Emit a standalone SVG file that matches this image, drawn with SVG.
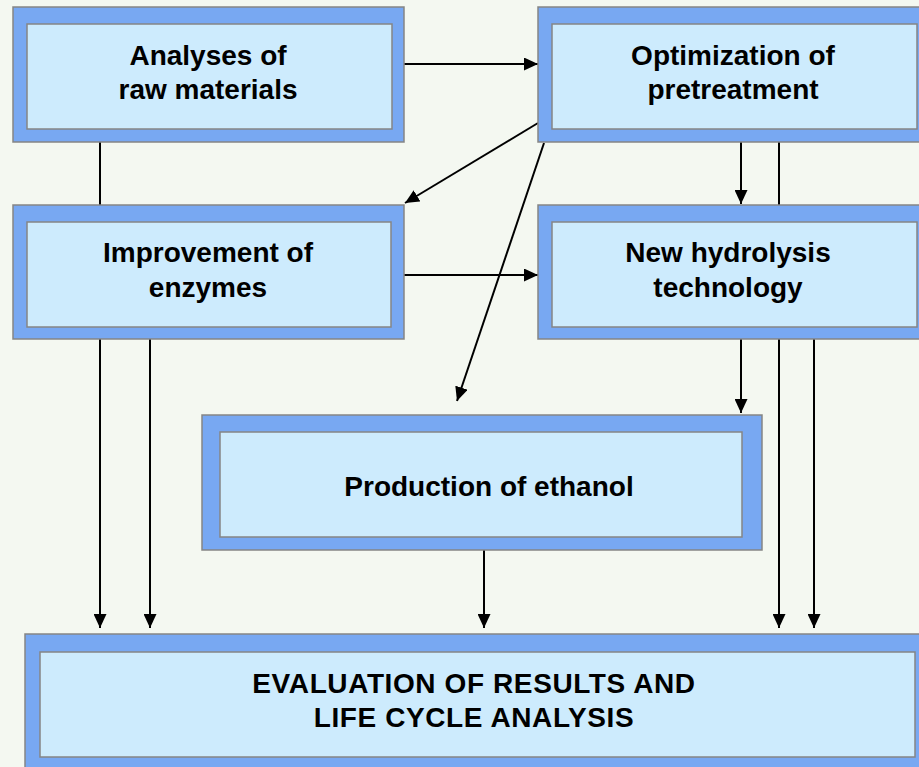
<svg xmlns="http://www.w3.org/2000/svg" width="919" height="767" viewBox="0 0 919 767">
<defs>
<marker id="ah" markerUnits="userSpaceOnUse" markerWidth="14" markerHeight="13" refX="14" refY="6.5" orient="auto" viewBox="0 0 14 13">
<path d="M0,0 L14,6.5 L0,13 z" fill="#000"/>
</marker>
<style>
.outer{fill:#78a8f2;stroke:#858585;stroke-width:1.5}
.inner{fill:#cdebfd;stroke:#858585;stroke-width:1.5}
.t{font-family:"Liberation Sans",Arial,sans-serif;font-weight:bold;font-size:28px;fill:#000;text-anchor:middle}
.w{letter-spacing:0.6px}
.c{stroke:#000;stroke-width:2;fill:none}
.a{marker-end:url(#ah)}
</style>
</defs>
<rect x="0" y="0" width="919" height="767" fill="#f4f8f1"/>
<g id="connectors">
<line class="c a" x1="404" y1="64" x2="538" y2="64"/>
<line class="c a" x1="100" y1="142" x2="100" y2="628"/>
<line class="c a" x1="538" y1="123" x2="405" y2="203"/>
<line class="c a" x1="544" y1="143" x2="457" y2="401"/>
<line class="c a" x1="741" y1="142" x2="741" y2="204"/>
<line class="c a" x1="779" y1="142" x2="779" y2="628"/>
<line class="c a" x1="404" y1="275" x2="538" y2="275"/>
<line class="c a" x1="150" y1="339" x2="150" y2="628"/>
<line class="c a" x1="741" y1="339" x2="741" y2="413"/>
<line class="c a" x1="814" y1="339" x2="814" y2="628"/>
<line class="c a" x1="484" y1="550" x2="484" y2="628"/>
</g>
<g id="analyses">
<rect class="outer" x="13" y="7" width="391" height="135"/>
<rect class="inner" x="27" y="24" width="365" height="105"/>
<text class="t" x="208" y="65">Analyses of</text>
<text class="t" x="208" y="99">raw materials</text>
</g>
<g id="optimization">
<rect class="outer" x="538" y="7" width="400" height="135"/>
<rect class="inner" x="552" y="24" width="365" height="105"/>
<text class="t" x="733" y="65">Optimization of</text>
<text class="t" x="733" y="99">pretreatment</text>
</g>
<g id="improvement">
<rect class="outer" x="13" y="205" width="391" height="134"/>
<rect class="inner" x="27" y="222" width="364" height="105"/>
<text class="t" x="208" y="262">Improvement of</text>
<text class="t" x="208" y="297">enzymes</text>
</g>
<g id="hydrolysis">
<rect class="outer" x="538" y="205" width="400" height="134"/>
<rect class="inner" x="552" y="222" width="365" height="105"/>
<text class="t" x="728" y="262">New hydrolysis</text>
<text class="t" x="728" y="297">technology</text>
</g>
<g id="production">
<rect class="outer" x="202" y="415" width="560" height="135"/>
<rect class="inner" x="220" y="432" width="522" height="105"/>
<text class="t" x="489" y="496">Production of ethanol</text>
</g>
<g id="evaluation">
<rect class="outer" x="25" y="634" width="920" height="150"/>
<rect class="inner" x="40" y="652" width="875" height="105"/>
<text class="t w" x="474" y="693">EVALUATION OF RESULTS AND</text>
<text class="t w" x="474" y="727">LIFE CYCLE ANALYSIS</text>
</g>
</svg>
